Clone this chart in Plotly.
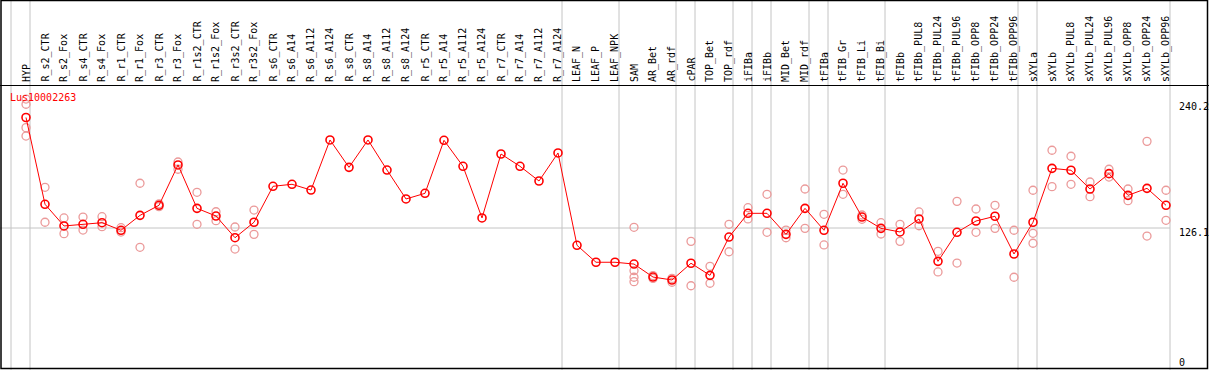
import plotly.graph_objects as go

categories = ["HYP", "R_s2_CTR", "R_s2_Fox", "R_s4_CTR", "R_s4_Fox", "R_r1_CTR", "R_r1_Fox",
              "R_r3_CTR", "R_r3_Fox", "R_r1s2_CTR", "R_r1s2_Fox", "R_r3s2_CTR", "R_r3s2_Fox",
              "R_s6_CTR", "R_s6_A14", "R_s6_A112", "R_s6_A124", "R_s8_CTR", "R_s8_A14",
              "R_s8_A112", "R_s8_A124", "R_r5_CTR", "R_r5_A14", "R_r5_A112", "R_r5_A124",
              "R_r7_CTR", "R_r7_A14", "R_r7_A112", "R_r7_A124", "LEAF_N", "LEAF_P", "LEAF_NPK",
              "SAM", "AR_Bet", "AR_rdf", "cPAR", "TOP_Bet", "TOP_rdf", "iFIBa", "iFIBb",
              "MID_Bet", "MID_rdf", "tFIBa", "tFIB_Gr", "tFIB_Li", "tFIB_Bi", "tFIBb",
              "tFIBb_PUL8", "tFIBb_PUL24", "tFIBb_PUL96", "tFIBb_OPP8", "tFIBb_OPP24",
              "tFIBb_OPP96", "sXYLa", "sXYLb", "sXYLb_PUL8", "sXYLb_PUL24", "sXYLb_PUL96",
              "sXYLb_OPP8", "sXYLb_OPP24", "sXYLb_OPP96"]

mean_values = [223.9, 147.1, 127.9, 129.4, 130.8, 124.1, 137.3, 146.2, 181.9, 143.5, 136.7,
               117.5, 131.2, 163.0, 164.8, 159.7, 204.0, 179.8, 204.0, 177.4, 151.8, 156.8,
               203.7, 180.7, 135.0, 191.6, 180.7, 167.7, 192.5, 110.8, 95.8, 95.8, 94.2, 82.7,
               80.1, 94.9, 84.2, 118.1, 139.1, 139.1, 120.5, 143.5, 124.1, 165.7, 135.8, 125.8,
               122.6, 134.1, 96.6, 122.3, 132.3, 136.5, 103.1, 131.2, 178.9, 177.2, 160.6,
               174.2, 155.0, 161.2, 146.2]

replicates = [
    [240.2, 235.6, 214.9, 207.5],   # HYP
    [162.1, 131.2], [135.0, 121.1], [135.8, 124.3], [136.1, 127.3], [126.4, 122.5],
    [165.7, 109.0], [147.5, 145.0], [184.5, 178.1], [157.7, 129.4], [140.5, 132.6],
    [127.0, 107.5], [142.0, 120.5],
    [], [], [], [], [], [], [], [], [], [], [], [], [], [], [], [], [], [], [],
    [126.7, 88.3, 82.5, 78.6],      # SAM
    [84.0, 81.5], [78.1, 81.5], [114.3, 75.0], [92.2, 77.2], [129.4, 105.1],
    [144.1, 134.1], [155.9, 122.3], [124.3, 117.5], [160.6, 125.8], [138.2, 111.1],
    [177.4, 155.9], [133.8, 137.6], [130.8, 120.8], [129.4, 114.3], [140.3, 128.1],
    [105.5, 87.2], [149.7, 95.1], [142.9, 122.3], [146.2, 125.8], [124.1, 82.5],
    [159.5, 121.4, 112.6],          # sXYLa
    [194.9, 162.7], [189.6, 164.8], [166.8, 153.8], [178.1, 171.2], [160.6, 150.3],
    [202.8, 119.0], [159.5, 132.9],
]

group_ends = [-1, 0, 28, 31, 34, 35, 37, 38, 39, 41, 42, 45, 52, 53, 60]
gene_name = "Lus10002263"
axis_ticks = [240.2, 126.1, 0]
axis_tick_labels = ["240.2", "126.1", "0"]

W, H = 1209, 370
STEP = 19.0
X0 = 26.0
FONT = "DejaVu Sans Mono"

rep_x, rep_y = [], []
for i, reps in enumerate(replicates):
    for v in reps:
        rep_x.append(i)
        rep_y.append(v)

fig = go.Figure()
fig.add_trace(go.Scatter(
    x=rep_x, y=rep_y, mode="markers",
    marker=dict(symbol="circle-open", size=8, color="#eb9a9a", line=dict(width=1.3, color="#eb9a9a")),
    hoverinfo="skip", showlegend=False))
fig.add_trace(go.Scatter(
    x=list(range(len(categories))), y=mean_values, mode="lines+markers",
    line=dict(color="#ff0000", width=1),
    marker=dict(symbol="circle-open", size=8, color="#ff0000", line=dict(width=1.6, color="#ff0000")),
    hoverinfo="skip", showlegend=False))

x_lo = -X0 / STEP
x_hi = (W - X0) / STEP
# y mapping: value 0 at pixel 370.5 from top, 1.13 px per unit
y_lo = (370.5 - H) / 1.13
y_hi = 370.5 / 1.13

shapes = []
for g in group_ends:
    shapes.append(dict(type="line", xref="x", yref="paper", x0=g + 4 / STEP, x1=g + 4 / STEP,
                       y0=0, y1=1, line=dict(color="#c4c4c4", width=1), layer="below"))
shapes.append(dict(type="line", xref="paper", yref="y", x0=0, x1=(X0 + STEP * 60 + 4) / W,
                   y0=axis_ticks[1], y1=axis_ticks[1], line=dict(color="#c4c4c4", width=1), layer="below"))
# frame and header separator
hdr = 1 - 85.5 / H
shapes.append(dict(type="line", xref="paper", yref="paper", x0=0, x1=1, y0=hdr, y1=hdr,
                   line=dict(color="black", width=1)))
shapes.append(dict(type="rect", xref="paper", yref="paper", x0=1 / W, x1=1 - 1.5 / W,
                   y0=1.5 / H, y1=1 - 0.5 / H, line=dict(color="black", width=1.5)))

annotations = []
for i, c in enumerate(categories):
    annotations.append(dict(x=i, xref="x", y=1 - 84 / H, yref="paper", text=c, textangle=-90,
                            showarrow=False, xanchor="center", yanchor="bottom",
                            font=dict(family=FONT, size=10, color="black")))
tick_pix = [107, 232, 362]
for v, lab, py in zip(axis_ticks, axis_tick_labels, tick_pix):
    annotations.append(dict(x=1177 / W, xref="paper", y=1 - py / H, yref="paper", text=lab,
                            showarrow=False, xanchor="left", yanchor="middle",
                            font=dict(family=FONT, size=10, color="black")))
annotations.append(dict(x=8 / W, xref="paper", y=1 - 97 / H, yref="paper", text=gene_name,
                        showarrow=False, xanchor="left", yanchor="middle",
                        font=dict(family=FONT, size=10, color="#ff0000")))

fig.update_layout(
    width=W, height=H, autosize=False,
    margin=dict(l=0, r=0, t=0, b=0, pad=0),
    paper_bgcolor="white", plot_bgcolor="white",
    xaxis=dict(range=[x_lo, x_hi], visible=False, fixedrange=True),
    yaxis=dict(range=[y_lo, y_hi], visible=False, fixedrange=True),
    shapes=shapes, annotations=annotations,
)

fig.write_html("out.html", config={"displayModeBar": False},
               post_script="document.body.style.margin='0';")
